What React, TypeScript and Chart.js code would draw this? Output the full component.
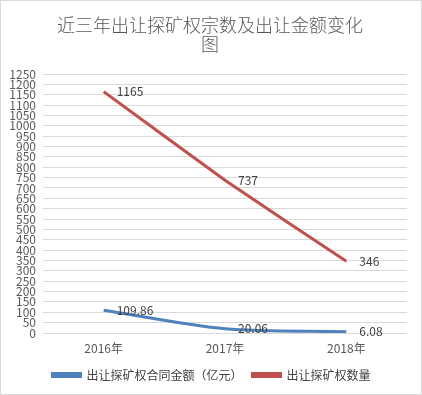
import React, { useEffect, useRef } from "react";
import { Chart, registerables } from "chart.js";

Chart.register(...registerables);

const categories = ["2016年", "2017年", "2018年"];
const amountSeries = [109.86, 20.06, 6.08];
const countSeries = [1165, 737, 346];
const amountLabels = ["109.86", "20.06", "6.08"];
const countLabels = ["1165", "737", "346"];
const titleLines = ["近三年出让探矿权宗数及出让金额变化", "图"];
const seriesNames = ["出让探矿权合同金额（亿元）", "出让探矿权数量"];

const FONT = "'Noto Sans CJK SC', 'Noto Sans', sans-serif";

const extrasPlugin = {
  id: "extras",
  afterLayout(chart: any) {
    if (chart.legend) {
      chart.legend.left += 8;
      chart.legend.right += 8;
    }
  },
  afterDraw(chart: any) {
    const ctx = chart.ctx;
    ctx.save();
    // border
    ctx.strokeStyle = "#d9d9d9";
    ctx.lineWidth = 1;
    ctx.strokeRect(0.5, 0.5, chart.width - 1, chart.height - 1);
    // title
    ctx.fillStyle = "#595959";
    ctx.font = `300 18px ${FONT}`;
    ctx.textAlign = "center";
    ctx.textBaseline = "middle";
    titleLines.forEach((t, i) => ctx.fillText(t, chart.width / 2 - 1, 25 + i * 19));
    // data labels
    ctx.fillStyle = "#404040";
    ctx.font = `12px ${FONT}`;
    ctx.textAlign = "left";
    const labelSets = [amountLabels, countLabels];
    chart.data.datasets.forEach((ds: any, di: number) => {
      const meta = chart.getDatasetMeta(di);
      meta.data.forEach((pt: any, i: number) => {
        ctx.fillText(labelSets[di][i], pt.x + 13, pt.y);
      });
    });
    ctx.restore();
  },
};

export default function App() {
  const ref = useRef<HTMLCanvasElement>(null);
  useEffect(() => {
    document.body.style.margin = "0";
    const chart = new Chart(ref.current!, {
      type: "line",
      data: {
        labels: categories,
        datasets: [
          {
            label: seriesNames[0],
            data: amountSeries,
            borderColor: "#4f81bd",
            backgroundColor: "#4f81bd",
            borderWidth: 3,
            pointRadius: 0,
            tension: 0.3,
          },
          {
            label: seriesNames[1],
            data: countSeries,
            borderColor: "#c0504d",
            backgroundColor: "#c0504d",
            borderWidth: 3,
            pointRadius: 0,
            tension: 0.1,
          },
        ],
      },
      options: {
        responsive: false,
        animation: false,
        devicePixelRatio: 1,
        layout: { padding: { top: 74, right: 15, left: 0, bottom: 4 } },
        plugins: {
          title: { display: false },
          tooltip: { enabled: false },
          legend: {
            position: "bottom",
            labels: {
              boxWidth: 28,
              boxHeight: 3,
              padding: 10,
              color: "#404040",
              font: { family: FONT, size: 12 },
            },
          },
        },
        scales: {
          x: {
            offset: true,
            grid: { display: false },
            border: { display: false },
            ticks: { color: "#595959", font: { family: FONT, size: 12 }, padding: 0 },
            afterFit: (s: any) => {
              s.height = 26;
            },
          },
          y: {
            min: 0,
            max: 1250,
            grid: { color: "#d9d9d9", drawTicks: false },
            border: { display: false },
            ticks: {
              stepSize: 50,
              autoSkip: false,
              color: "#595959",
              font: { family: FONT, size: 12 },
              padding: 7,
              callback: (v: any) => String(v),
            },
            afterFit: (s: any) => {
              s.width = 43;
            },
          },
        },
      },
      plugins: [extrasPlugin],
    });
    return () => chart.destroy();
  }, []);
  return (
    <div style={{ position: "absolute", left: 0, top: 0, width: 422, height: 395, background: "#fff" }}>
      <canvas ref={ref} width={422} height={395} style={{ display: "block" }} />
    </div>
  );
}
